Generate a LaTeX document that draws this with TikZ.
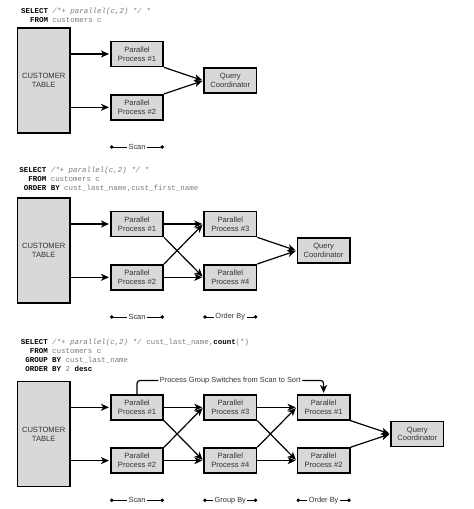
\documentclass[tikz,border=0pt]{standalone}
\usepackage{fontspec}
\setmainfont{Liberation Sans}
\newfontfamily\sqlfont{Liberation Mono}
\usetikzlibrary{positioning,arrows.meta}

\definecolor{boxgray}{HTML}{D8D8D8}
\definecolor{textgray}{HTML}{333333}
\definecolor{codegray}{HTML}{7A7A7A}

\newcommand{\kw}[1]{\textbf{\color{black}#1}}
\newcommand{\hint}[1]{\textit{#1}}

\begin{document}
\begin{tikzpicture}[
  x=1pt, y=1pt,
  node distance = 53.3pt and 93.3pt,
  on grid,
  pnode/.style={rectangle, draw=black, line width=1.6pt, fill=boxgray, minimum width=52.4pt, minimum height=25.1pt, inner sep=0pt, align=center, text=textgray, font=\fontsize{7.6}{8.8}\selectfont},
  tnode/.style={pnode, minimum height=105.1pt},
  sqlnode/.style={anchor=north west, align=left, inner sep=0pt, text=codegray, font=\sqlfont\fontsize{7.45}{9.1}\selectfont},
  arw/.style={-{Stealth[length=8pt, width=7pt, inset=2.2pt]}, line width=1.2pt, shorten >=1pt},
  stage/.style={{Circle[length=3.4pt]}-{Circle[length=3.4pt]}, line width=0.8pt},
  slabel/.style={fill=white, inner sep=1.5pt, text=textgray, font=\fontsize{7.4}{8}\selectfont}
  ]

\useasboundingbox (0,0) rectangle (474,-509);

% first query: scan only
\node [sqlnode] (sqla) at (21,-8) {\kw{SELECT} \hint{/*+ parallel(c,2) */} *\\\hphantom{XX}\kw{FROM} customers c};

\node [pnode] (pp1a) at (137,-54) {Parallel\\Process \#1};
\node [pnode, below=of pp1a] (pp2a) {Parallel\\Process \#2};
\node [tnode, below left=26.65pt and 93.3pt of pp1a] (taba) {CUSTOMER\\TABLE};
\node [pnode, below right=26.65pt and 93.3pt of pp1a] (qca) {Query\\Coordinator};

\draw [arw] (taba.east |- pp1a) -- (pp1a);
\draw [arw] (taba.east |- pp2a) -- (pp2a);
\draw [arw] (pp1a.south east) -- (qca.west);
\draw [arw] (pp2a.north east) -- (qca.west);

\coordinate [below=26.3pt of pp2a.south west] (scan1l);
\coordinate [below=26.3pt of pp2a.south east] (scan1r);
\draw [stage] (scan1l) -- node [slabel] {Scan} (scan1r);

% second query: scan and order by
\node [sqlnode] (sqlb) at (19.3,-167) {\kw{SELECT} \hint{/*+ parallel(c,2) */} *\\\hphantom{XX}\kw{FROM} customers c\\\hphantom{X}\kw{ORDER BY} cust\_last\_name,cust\_first\_name};

\node [pnode] (pp1b) at (137,-224) {Parallel\\Process \#1};
\node [pnode, below=of pp1b] (pp2b) {Parallel\\Process \#2};
\node [pnode, right=of pp1b] (pp3b) {Parallel\\Process \#3};
\node [pnode, right=of pp2b] (pp4b) {Parallel\\Process \#4};
\node [tnode, below left=26.65pt and 93.3pt of pp1b] (tabb) {CUSTOMER\\TABLE};
\node [pnode, below right=26.65pt and 93.3pt of pp3b] (qcb) {Query\\Coordinator};

\draw [arw] (tabb.east |- pp1b) -- (pp1b);
\draw [arw] (tabb.east |- pp2b) -- (pp2b);
\draw [arw] (pp1b) -- (pp3b);
\draw [arw] (pp2b) -- (pp4b);
\draw [arw] (pp1b.south east) -- (pp4b.west);
\draw [arw] (pp2b.north east) -- (pp3b.west);
\draw [arw] (pp3b.south east) -- (qcb.west);
\draw [arw] (pp4b.north east) -- (qcb.west);

\coordinate [below=26.3pt of pp2b.south west] (scan2l);
\coordinate [below=26.3pt of pp2b.south east] (scan2r);
\coordinate [below=26.3pt of pp4b.south west] (ord2l);
\coordinate [below=26.3pt of pp4b.south east] (ord2r);
\draw [stage] (scan2l) -- node [slabel] {Scan} (scan2r);
\draw [stage] (ord2l) -- node [slabel] {Order By} (ord2r);

% third query: scan, group by and order by
\node [sqlnode] (sqlc) at (20.7,-338.5) {\kw{SELECT} \hint{/*+ parallel(c,2) */} cust\_last\_name,\kw{count}(*)\\\hphantom{XX}\kw{FROM} customers c\\\hphantom{X}\kw{GROUP BY} cust\_last\_name\\\hphantom{X}\kw{ORDER BY} 2 \kw{desc}};

\node [pnode] (pp1c) at (137,-407.3) {Parallel\\Process \#1};
\node [pnode, below=of pp1c] (pp2c) {Parallel\\Process \#2};
\node [pnode, right=of pp1c] (pp3c) {Parallel\\Process \#3};
\node [pnode, right=of pp2c] (pp4c) {Parallel\\Process \#4};
\node [pnode, right=of pp3c] (pp5c) {Parallel\\Process \#1};
\node [pnode, right=of pp4c] (pp6c) {Parallel\\Process \#2};
\node [tnode, below left=26.65pt and 93.3pt of pp1c] (tabc) {CUSTOMER\\TABLE};
\node [pnode, below right=26.65pt and 93.7pt of pp5c] (qcc) {Query\\Coordinator};

\draw [arw] (tabc.east |- pp1c) -- (pp1c);
\draw [arw] (tabc.east |- pp2c) -- (pp2c);
\draw [arw] (pp1c) -- (pp3c);
\draw [arw] (pp2c) -- (pp4c);
\draw [arw] (pp1c.south east) -- (pp4c.west);
\draw [arw] (pp2c.north east) -- (pp3c.west);
\draw [arw] (pp3c) -- (pp5c);
\draw [arw] (pp4c) -- (pp6c);
\draw [arw] (pp3c.south east) -- (pp6c.west);
\draw [arw] (pp4c.north east) -- (pp5c.west);
\draw [arw] (pp5c.south east) -- (qcc.west);
\draw [arw] (pp6c.north east) -- (qcc.west);

\draw [arw, rounded corners=3pt] (pp1c.north) -- ++(0,13.5) -| node [pos=0.25, slabel] {Process Group Switches from Scan to Sort} (pp5c.north);

\coordinate [below=26.3pt of pp2c.south west] (scan3l);
\coordinate [below=26.3pt of pp2c.south east] (scan3r);
\coordinate [below=26.3pt of pp4c.south west] (grp3l);
\coordinate [below=26.3pt of pp4c.south east] (grp3r);
\coordinate [below=26.3pt of pp6c.south west] (ord3l);
\coordinate [below=26.3pt of pp6c.south east] (ord3r);
\draw [stage] (scan3l) -- node [slabel] {Scan} (scan3r);
\draw [stage] (grp3l) -- node [slabel] {Group By} (grp3r);
\draw [stage] (ord3l) -- node [slabel] {Order By} (ord3r);

\end{tikzpicture}
\end{document}
